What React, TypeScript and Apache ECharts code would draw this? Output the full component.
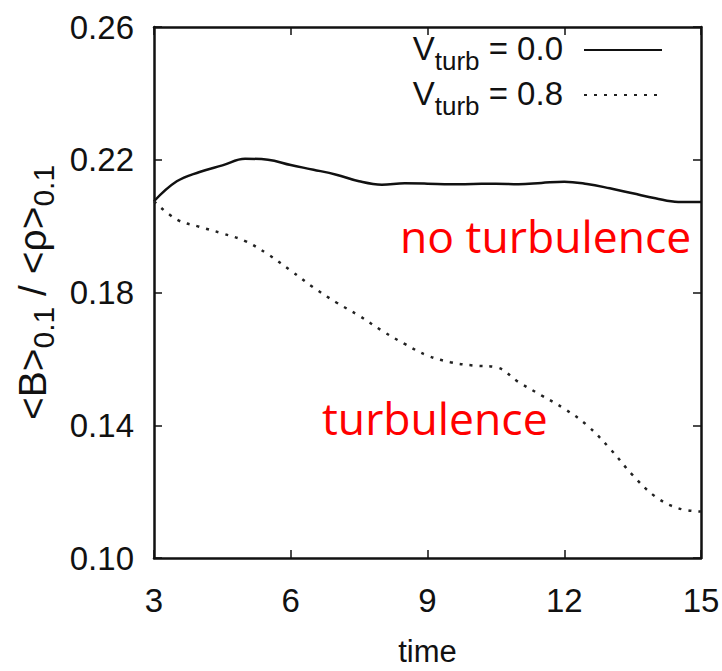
import React, { useEffect, useRef } from "react";
import * as echarts from "echarts";

const times = [3, 3.5, 4, 4.5, 5, 5.5, 6, 6.5, 7, 7.5, 8, 8.5, 9, 9.5, 10, 10.5, 11, 11.5, 12, 12.5, 13, 13.5, 14, 14.5, 15];
const noTurb = [0.2075, 0.2135, 0.2163, 0.2183, 0.2203, 0.22, 0.2184, 0.217, 0.2155, 0.2135, 0.2125, 0.2129, 0.2128, 0.2126, 0.2127, 0.2128, 0.2126, 0.213, 0.2134, 0.2127, 0.2114, 0.2099, 0.2084, 0.2073, 0.2073];
const turb = [0.2075, 0.202, 0.1998, 0.1978, 0.1955, 0.1915, 0.1866, 0.1815, 0.177, 0.173, 0.1685, 0.1645, 0.161, 0.159, 0.158, 0.1575, 0.153, 0.149, 0.145, 0.14, 0.133, 0.125, 0.1185, 0.115, 0.114];
const seriesNames = ["V0.0", "V0.8"];
const legendLabels: Record<string, string> = { "V0.0": "0.0", "V0.8": "0.8" };

const AX_FONT = "'Liberation Sans', Arial, sans-serif";
const RED_FONT = "'Open Sans', 'DejaVu Sans', sans-serif";

export default function App() {
  const ref = useRef<HTMLDivElement>(null);
  useEffect(() => {
    const chart = echarts.init(ref.current!, null, { renderer: "svg" });
    const axisLine = { show: true, lineStyle: { color: "#111", width: 2.5 } };
    const axisTick = { show: true, inside: true, length: 8, lineStyle: { color: "#111", width: 1.5 } };
    chart.setOption({
      animation: false,
      backgroundColor: "#fff",
      grid: { left: 154, top: 27, right: 21, bottom: 113, containLabel: false, outerBoundsMode: "none" },
      legend: {
        top: 27,
        right: 54,
        orient: "vertical",
        align: "right",
        itemWidth: 78,
        itemHeight: 12,
        itemGap: 3,
        data: seriesNames,
        itemStyle: { opacity: 0 },
        formatter: (name: string) => `{v|V}{s|turb}{e| = ${legendLabels[name]}}`,
        textStyle: {
          rich: {
            v: { fontFamily: AX_FONT, fontSize: 33, color: "#111", verticalAlign: "top", lineHeight: 36 },
            e: { fontFamily: AX_FONT, fontSize: 33, color: "#111", verticalAlign: "top", lineHeight: 36, padding: [0, 16, 0, 0] },
            s: { fontFamily: AX_FONT, fontSize: 26, color: "#111", verticalAlign: "top", padding: [16, 0, 0, 0], lineHeight: 28 },
          },
        },
      },
      xAxis: [
        {
          type: "value",
          min: 3,
          max: 15,
          interval: 3,
          name: "time",
          nameLocation: "middle",
          nameGap: 78,
          nameTextStyle: { fontFamily: AX_FONT, fontSize: 31, color: "#111" },
          axisLine,
          axisTick,
          splitLine: { show: false },
          axisLabel: { fontFamily: AX_FONT, fontSize: 33, color: "#111", margin: 26 },
        },
        {
          type: "value",
          position: "top",
          min: 3,
          max: 15,
          interval: 3,
          axisLine,
          axisTick,
          splitLine: { show: false },
          axisLabel: { show: false },
        },
      ],
      yAxis: [
        {
          type: "value",
          min: 0.1,
          max: 0.26,
          interval: 0.04,
          name: "{m|<B>}{s|0.1}{m| / <ρ>}{s|0.1}",
          nameLocation: "middle",
          nameGap: 104,
          nameRotate: 90,
          nameTextStyle: {
            rich: {
              m: { fontFamily: AX_FONT, fontSize: 39, color: "#111", verticalAlign: "top", lineHeight: 36 },
              s: { fontFamily: AX_FONT, fontSize: 30, color: "#111", verticalAlign: "top", padding: [16, 0, 0, 0], lineHeight: 28 },
            },
          },
          axisLine,
          axisTick,
          splitLine: { show: false },
          axisLabel: { fontFamily: AX_FONT, fontSize: 33, color: "#111", margin: 20, formatter: (v: number) => v.toFixed(2) },
        },
        {
          type: "value",
          position: "right",
          min: 0.1,
          max: 0.26,
          interval: 0.04,
          axisLine,
          axisTick,
          splitLine: { show: false },
          axisLabel: { show: false },
        },
      ],
      series: [
        {
          name: seriesNames[0],
          type: "line",
          smooth: 0.4,
          symbol: "none",
          data: times.map((t, i) => [t, noTurb[i]]),
          lineStyle: { color: "#111", width: 2.5, type: "solid" },
          itemStyle: { color: "#111" },
        },
        {
          name: seriesNames[1],
          type: "line",
          smooth: 0.4,
          symbol: "none",
          data: times.map((t, i) => [t, turb[i]]),
          lineStyle: { color: "#222", width: 2.5, type: [3, 7] },
          itemStyle: { color: "#222" },
        },
      ],
      graphic: [
        {
          type: "text",
          left: 400,
          top: 213,
          style: { text: "no turbulence", fontFamily: RED_FONT, fontSize: 44.5, fill: "#ff0000" },
        },
        {
          type: "text",
          left: 322,
          top: 395,
          style: { text: "turbulence", fontFamily: RED_FONT, fontSize: 44.5, fill: "#ff0000" },
        },
      ],
    });
    return () => chart.dispose();
  }, []);
  return <div ref={ref} style={{ width: 722, height: 671, position: "absolute", left: 0, top: 0 }} />;
}
